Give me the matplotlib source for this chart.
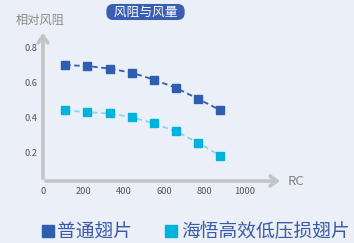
import matplotlib.pyplot as plt

plt.rcParams['font.family'] = ['Noto Sans CJK SC', 'DejaVu Sans']

rc = [110, 220, 330, 440, 550, 660, 770, 880]
normal_fin = [0.70, 0.695, 0.68, 0.657, 0.617, 0.57, 0.507, 0.443]
haiwu_fin = [0.443, 0.432, 0.425, 0.403, 0.368, 0.322, 0.258, 0.183]
series_names = ['普通翅片', '海悟高效低压损翅片']
xticks = [0, 200, 400, 600, 800, 1000]
yticks = [0.2, 0.4, 0.6, 0.8]

bg = '#ebeff7'
dark = '#2f5db0'
cyan = '#00b2dc'
axis_gray = '#c3c4c6'

fig = plt.figure(figsize=(3.54, 2.43), dpi=100, facecolor=bg)
ax = fig.add_axes([43 / 354, 62 / 243, 240 / 354, 151 / 243])
ax.set_facecolor(bg)

ax.plot(rc, normal_fin, color=dark, linestyle=(0, (3, 2)), linewidth=1.3,
        marker='s', markersize=5.5, label=series_names[0])
ax.plot(rc, haiwu_fin, color='#8fd3f0', linestyle=(0, (3, 2)), linewidth=1.3,
        marker='s', markersize=5.5, markerfacecolor=cyan, markeredgecolor=cyan,
        label=series_names[1])

ax.set_xlim(0, 1190)
ax.set_ylim(0.04, 0.90)
ax.set_xticks(xticks)
ax.set_yticks(yticks)
ax.set_yticklabels([f'{v:.1f}' for v in yticks])
ax.tick_params(length=0, labelsize=6.7, labelcolor='#555555', pad=4)
for s in ax.spines.values():
    s.set_visible(False)

# axis arrows
arrow = dict(arrowstyle='->,head_length=0.5,head_width=0.35', color=axis_gray, lw=2.6)
ax.annotate('', xy=(0, 1.0), xytext=(0, 0), xycoords='axes fraction', arrowprops=arrow)
ax.annotate('', xy=(1.0, 0), xytext=(0, 0), xycoords='axes fraction', arrowprops=arrow)

fig.text(288 / 354, 1 - 181 / 243, 'RC', fontsize=9.5, color='#808080', va='center', ha='left')
fig.text(16 / 354, 1 - 20 / 243, '相对风阻', fontsize=8.8, color='#8a8a8a', va='center', ha='left')
fig.text(145.5 / 354, 1 - 12 / 243, '  风阻与风量  ', fontsize=9.2, color='white', va='center', ha='center',
         bbox=dict(boxstyle='round,pad=0.12,rounding_size=0.55', facecolor='#3a5fb0', edgecolor='none'))

leg = fig.legend(loc='center', bbox_to_anchor=(0.553, 1 - 232 / 243), ncol=2, frameon=False,
                 fontsize=13.5, handlelength=0.6, handletextpad=0.2, columnspacing=1.8)
for h in leg.legend_handles:
    h.set_linestyle('none')
    h.set_markersize(8.8)
for t in leg.get_texts():
    t.set_color('#3a5aa8')

fig.savefig('out.png', dpi=100, facecolor=bg)
